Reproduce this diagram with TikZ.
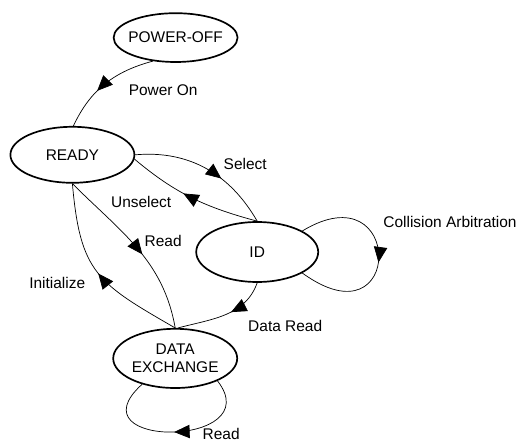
\documentclass[tikz,border=0pt]{standalone}
\usepackage{fontspec}
\setmainfont{Liberation Sans}
\usetikzlibrary{shapes.geometric,arrows.meta,decorations.markings}

\begin{document}
\begin{tikzpicture}[
    font=\fontsize{11}{13}\selectfont,
    state/.style={draw, ellipse, line width=1.2pt, minimum width=3.1cm, minimum height=1.45cm, inner sep=0pt},
    trans/.style={line width=0.5pt},
    midarrow/.style={postaction={decorate}, decoration={markings, mark=at position #1 with {\arrow{Triangle[length=11pt,width=9.5pt]}}}}
]
    \useasboundingbox (0,0) rectangle (13.2,11.05);
    % states
    \node[state, minimum height=1.22cm, label=center:POWER-OFF] (off) at (4.39,10.11) {};
    \node[state, minimum height=1.4cm, label=center:READY] (ready) at (1.81,7.18) {};
    \node[state, minimum width=3.05cm, minimum height=1.5cm, label=center:ID] (id) at (6.43,4.75) {};
    \node[state, minimum height=1.48cm, label={[align=center]center:DATA\\EXCHANGE}] (dex) at (4.38,2.09) {};
    % transitions
    \draw[trans, midarrow=0.6] (off.226) to[out=195, in=65] (ready.88);
    \draw[trans, midarrow=0.62] (ready.east) to[out=5, in=120] (id.north);
    \draw[trans, midarrow=0.57] (id.north) to[out=165, in=-40] (ready.-4);
    \draw[trans, midarrow=0.55] (ready.south) to[out=-45, in=100] (dex.north);
    \draw[trans, midarrow=0.5] (dex.north) to[out=150, in=-85, looseness=1.3] (ready.south);
    \draw[trans, midarrow=0.42] (id.south) to[out=-110, in=15] (dex.85);
    \draw[trans, midarrow=0.53] (id.25) .. controls +(2.55,1.55) and +(2.55,-1.85) .. (id.-25);
    \draw[trans, midarrow=0.5] (dex.-28) .. controls +(1.3,-1.675) and +(-1.8,-1.625) .. (dex.-142);
    % labels
    \node (lpower) at (4.08,8.8) {Power On};
    \node (lselect) at (6.13,6.95) {Select};
    \node (lunsel) at (3.53,6.0) {Unselect};
    \node (lread) at (4.08,5.03) {Read};
    \node (linit) at (1.43,3.98) {Initialize};
    \node (ldata) at (7.13,2.9) {Data Read};
    \node (lcoll) at (11.25,5.5) {Collision Arbitration};
    \node (lloop) at (5.53,0.2) {Read};
\end{tikzpicture}
\end{document}
